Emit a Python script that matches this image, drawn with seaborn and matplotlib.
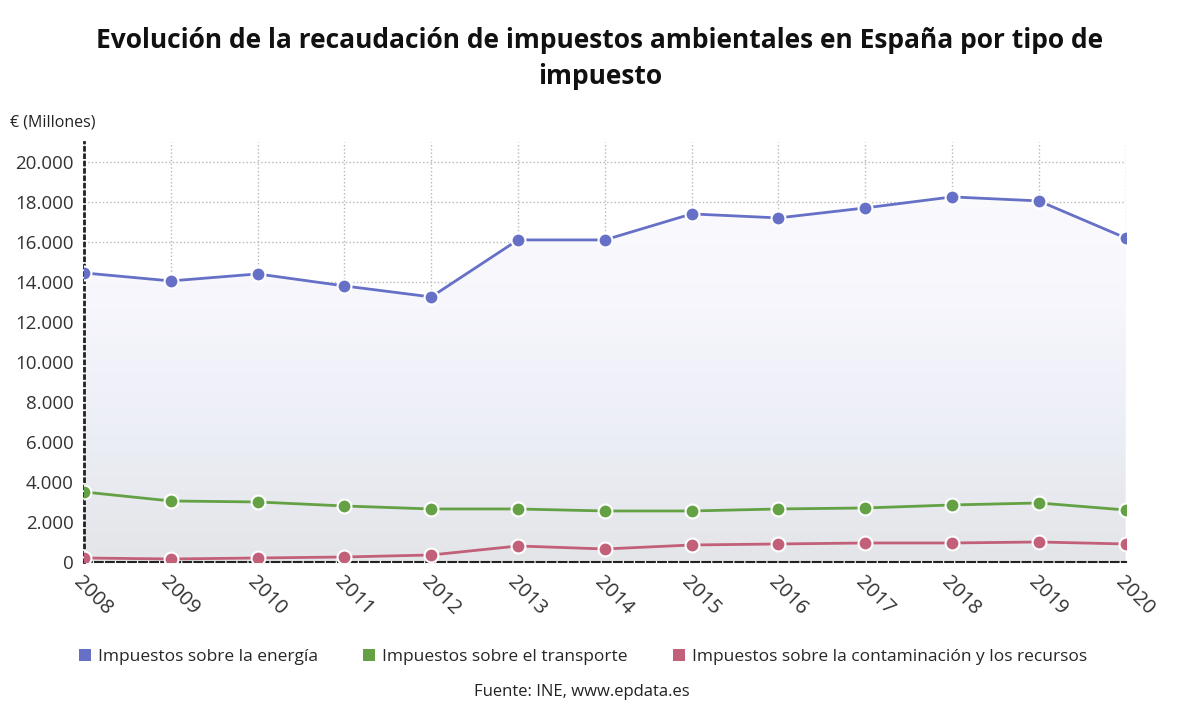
import numpy as np
import pandas as pd
import seaborn as sns
import matplotlib.pyplot as plt
from matplotlib.patches import Patch
from matplotlib.colors import LinearSegmentedColormap

# data
years = list(range(2008, 2021))
energia = [14450, 14050, 14400, 13800, 13250, 16100, 16100, 17400, 17200, 17700, 18250, 18050, 16200]
transporte = [3500, 3050, 3000, 2800, 2650, 2650, 2550, 2550, 2650, 2700, 2850, 2950, 2600]
contaminacion = [200, 150, 200, 250, 350, 800, 650, 850, 900, 950, 950, 1000, 900]

series_names = ["Impuestos sobre la energía",
                "Impuestos sobre el transporte",
                "Impuestos sobre la contaminación y los recursos"]
colors = ["#6670c6", "#63a144", "#c2607a"]
yticks = list(range(0, 20001, 2000))

df = pd.DataFrame({
    "year": years * 3,
    "value": energia + transporte + contaminacion,
    "serie": [series_names[0]] * 13 + [series_names[1]] * 13 + [series_names[2]] * 13,
})

sns.set_style("white")
plt.rcParams['font.family'] = ['Open Sans', 'DejaVu Sans']

fig = plt.figure(figsize=(12, 7.12), dpi=100)
ax = fig.add_axes([0.07, 0.2107, 0.868, 0.59])

# gradient fill under the energy line
fill = ax.fill_between(years, energia, 0, color="none", zorder=1)
grad = np.linspace(0, 1, 256).reshape(-1, 1)
cmap = LinearSegmentedColormap.from_list("g", ["#e4e5e8", "#eceef6", "#f6f6fc", "#fbfbfe"])
im = ax.imshow(grad, aspect="auto", cmap=cmap, origin="lower",
               extent=[2008, 2020, 0, 19000], zorder=1)
im.set_clip_path(fill.get_paths()[0], transform=ax.transData)

sns.lineplot(data=df, x="year", y="value", hue="serie", palette=colors,
             marker="o", markersize=10, markeredgecolor="white",
             markeredgewidth=1.5, linewidth=2, legend=False, ax=ax, zorder=3)

ax.set_xlim(2008, 2020)
ax.set_ylim(0, 21000)
ax.set_xticks(years)
ax.set_xticklabels([str(y) for y in years], rotation=-45, ha="left",
                   rotation_mode="anchor", fontsize=14.5, color="#333333")
ax.set_yticks(yticks)
ax.set_yticklabels([f"{v:,}".replace(",", ".") for v in yticks],
                   fontsize=13.5, color="#333333")
ax.tick_params(axis="both", length=4, color="#333333")
ax.set_xlabel("")
ax.set_ylabel("")

ax.grid(True, linestyle=":", color="#b8b8b8", linewidth=1, zorder=2)
for s in ["top", "right"]:
    ax.spines[s].set_visible(False)
ax.spines["left"].set_linestyle(":")
ax.spines["left"].set_linewidth(2)
ax.spines["left"].set_color("#222222")
ax.spines["bottom"].set_linestyle("--")
ax.spines["bottom"].set_linewidth(1.5)
ax.spines["bottom"].set_color("#222222")

fig.text(0.5, 0.918, "Evolución de la recaudación de impuestos ambientales en España por tipo de\nimpuesto",
         ha="center", va="center", fontsize=19, fontweight="bold", color="#111111",
         linespacing=1.4)
fig.text(0.008, 0.828, "€ (Millones)", ha="left", va="center", fontsize=11.5, color="#222222")

handles = [Patch(facecolor=c, edgecolor="none") for c in colors]
fig.legend(handles, series_names, loc="center", bbox_to_anchor=(0.486, 0.077),
           ncol=3, frameon=False, fontsize=12.5, handlelength=0.7, handleheight=0.7,
           handletextpad=0.4, columnspacing=2.6)
fig.text(0.485, 0.028, "Fuente: INE, www.epdata.es", ha="center", va="center",
         fontsize=12, color="#222222")

fig.savefig("out.png", dpi=100)
